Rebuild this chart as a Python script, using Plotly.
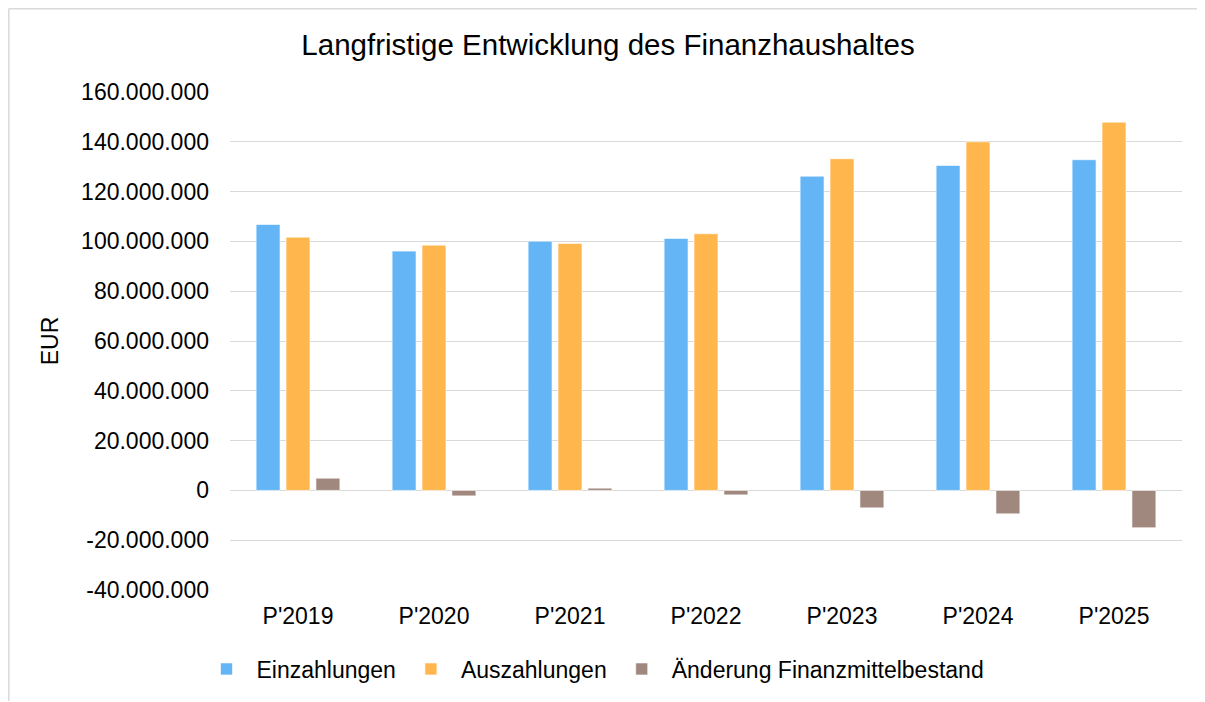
import plotly.graph_objects as go

categories = ["P'2019", "P'2020", "P'2021", "P'2022", "P'2023", "P'2024", "P'2025"]
einzahlungen = [106.8e6, 96.1e6, 100.1e6, 101.2e6, 126.2e6, 130.5e6, 132.8e6]
auszahlungen = [101.7e6, 98.5e6, 99.2e6, 103.1e6, 133.2e6, 140.0e6, 147.9e6]
aenderung = [4.9e6, -2.2e6, 0.9e6, -1.8e6, -7.0e6, -9.4e6, -15.0e6]
y_ticks = [-40e6, -20e6, 0, 20e6, 40e6, 60e6, 80e6, 100e6, 120e6, 140e6, 160e6]
y_ticktext = ["-40.000.000", "-20.000.000", "0", "20.000.000", "40.000.000",
              "60.000.000", "80.000.000", "100.000.000", "120.000.000",
              "140.000.000", "160.000.000"]

FONT = "Liberation Sans, Arial, sans-serif"
OFF = 8  # page body margin
W, H = 1205 - OFF, 702 - OFF
L = 230 - OFF
T = 92 - OFF
R = W - (1182 - OFF)
B = H - (590 - OFF)

fig = go.Figure()
series = [
    ("Einzahlungen", einzahlungen, "#64B5F6"),
    ("Auszahlungen", auszahlungen, "#FFB74D"),
    ("Änderung Finanzmittelbestand", aenderung, "#A1887F"),
]
for name, vals, col in series:
    fig.add_trace(go.Bar(
        name=name, x=categories, y=vals,
        marker=dict(color=col, line=dict(color="rgba(255,255,255,0.6)", width=1)),
    ))

pw = W - L - R
ph = H - T - B
def px_to_paper_x(px):
    return (px - OFF - L) / pw
def px_to_paper_y(py):
    return (H - B - (py - OFF)) / ph

fig.update_layout(
    width=W, height=H,
    margin=dict(l=L, r=R, t=T, b=B),
    paper_bgcolor="white", plot_bgcolor="white",
    barmode="group", bargap=0.34, bargroupgap=0.2,
    font=dict(family=FONT, size=23, color="#000000"),
    title=dict(text="Langfristige Entwicklung des Finanzhaushaltes",
               font=dict(family=FONT, size=29.5, color="#000000"),
               x=(608 - OFF) / W, xref="container", xanchor="center",
               y=1 - (45 - OFF) / H, yref="container", yanchor="middle"),
    legend=dict(orientation="h", x=(593 - OFF) / W, xref="container", xanchor="center",
                y=1 - (669 - OFF) / H, yref="container", yanchor="middle",
                font=dict(family=FONT, size=23, color="#000000"),
                itemwidth=50, traceorder="normal"),
    xaxis=dict(showgrid=False, showline=False, ticks="",
               tickfont=dict(family=FONT, size=23, color="#000000"),
               ticklabelstandoff=10),
    yaxis=dict(range=[-40e6, 160e6], tickvals=y_ticks, ticktext=y_ticktext,
               showgrid=True, gridcolor="#D9D9D9", gridwidth=1.3,
               zeroline=True, zerolinecolor="#D9D9D9", zerolinewidth=1.3,
               showline=False, ticks="",
               ticklabelstandoff=20,
               tickfont=dict(family=FONT, size=23, color="#000000"),
               title=dict(text="EUR", font=dict(family=FONT, size=23, color="#000000"),
                          standoff=16)),
    shapes=[
        dict(type="line", xref="paper", yref="paper",
             x0=px_to_paper_x(8.8), x1=px_to_paper_x(8.8),
             y0=px_to_paper_y(8.8), y1=px_to_paper_y(701),
             line=dict(color="#D9D9D9", width=1.5)),
        dict(type="line", xref="paper", yref="paper",
             x0=px_to_paper_x(8.8), x1=px_to_paper_x(1204),
             y0=px_to_paper_y(8.8), y1=px_to_paper_y(8.8),
             line=dict(color="#D9D9D9", width=1.5)),
    ],
)

fig.write_html("out.html")
